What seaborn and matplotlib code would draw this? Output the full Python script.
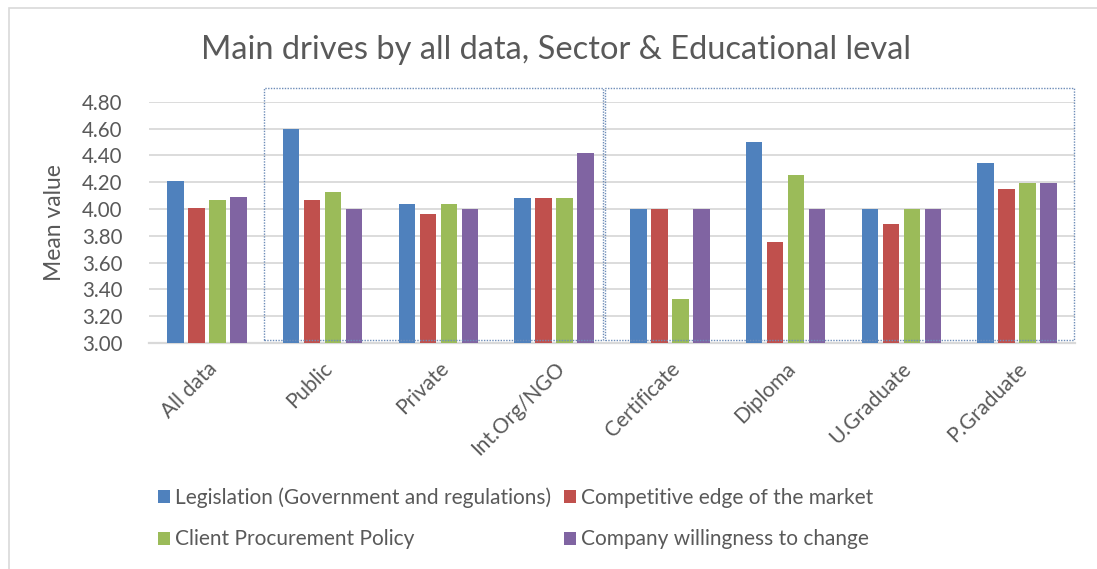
import matplotlib
matplotlib.use("Agg")
import matplotlib.pyplot as plt
from matplotlib.patches import Rectangle, Patch
import seaborn as sns
import pandas as pd

# Survey categories (overall, by sector, by educational level)
groups = ["All data", "Public", "Private", "Int.Org/NGO",
          "Certificate", "Diploma", "U.Graduate", "P.Graduate"]
drivers = ["Legislation (Government and regulations)",
           "Competitive edge of the market",
           "Client Procurement Policy",
           "Company willingness to change"]

# Mean scores per driver
legislation = [4.21, 4.60, 4.04, 4.08, 4.00, 4.50, 4.00, 4.34]
competitive = [4.01, 4.07, 3.96, 4.08, 4.00, 3.75, 3.89, 4.15]
procurement = [4.07, 4.13, 4.04, 4.08, 3.33, 4.25, 4.00, 4.19]
willingness = [4.09, 4.00, 4.00, 4.42, 4.00, 4.00, 4.00, 4.19]

y_ticks = [3.00, 3.20, 3.40, 3.60, 3.80, 4.00, 4.20, 4.40, 4.60, 4.80]

colors = ["#4F81BD", "#C0504D", "#9BBB59", "#8064A2"]
text_gray = "#595959"
grid_gray = "#D9D9D9"

rows = []
for drv, vals in zip(drivers, [legislation, competitive, procurement, willingness]):
    for g, v in zip(groups, vals):
        rows.append({"group": g, "driver": drv, "value": v})
df = pd.DataFrame(rows)

sns.set_style("white")
plt.rcParams["font.family"] = ["Lato", "DejaVu Sans"]

W, H = 1097, 569
fig = plt.figure(figsize=(W / 100, H / 100), dpi=100)
ax = fig.add_axes([149 / W, 1 - 343 / H, 926 / W, (343 - 101.7) / H])

sns.barplot(data=df, x="group", y="value", hue="driver", order=groups,
            hue_order=drivers, palette=colors, width=0.726, gap=0.22,
            linewidth=0, saturation=1, legend=False, ax=ax, zorder=3)

ax.set_ylim(3.0, 4.8)
ax.set_xlim(-0.5, len(groups) - 0.5)
ax.set_yticks(y_ticks)
ax.set_yticklabels([f"{t:.2f}" for t in y_ticks])
ax.yaxis.grid(True, color=grid_gray, linewidth=1.3, zorder=0)
ax.set_axisbelow(True)
for side in ["left", "right", "top"]:
    ax.spines[side].set_visible(False)
ax.spines["bottom"].set_color(grid_gray)
ax.spines["bottom"].set_linewidth(1.6)
ax.spines["bottom"].set_zorder(1)

ax.tick_params(axis="y", length=0, pad=19, labelsize=14.8, labelcolor=text_gray)
ax.tick_params(axis="x", length=0, pad=11, labelsize=15, labelcolor=text_gray)
plt.setp(ax.get_xticklabels(), rotation=45, ha="right", rotation_mode="anchor")

ax.set_xlabel("")
ax.set_ylabel("Mean value", fontsize=16.5, color=text_gray, labelpad=12)

# Dotted frames around the sector and educational-level groups
box_style = dict(fill=False, edgecolor="#6E8DB8", linewidth=1.0,
                 linestyle=(0, (1, 1)), clip_on=False, zorder=4)
ax.add_patch(Rectangle((0.49, 3.02), 3.42 - 0.49, 4.90 - 3.02, **box_style))
ax.add_patch(Rectangle((3.44, 3.02), 7.49 - 3.44, 4.90 - 3.02, **box_style))

fig.text(556 / W, 1 - 50 / H, "Main drives by all data, Sector & Educational leval",
         ha="center", va="center", fontsize=23.5, color=text_gray)

handles = [Patch(facecolor=c, edgecolor="none") for c in colors]
order = [0, 2, 1, 3]
fig.legend([handles[i] for i in order], [drivers[i] for i in order],
           ncol=2, loc="upper left", bbox_to_anchor=(158 / W, 1 - 487 / H),
           frameon=False, fontsize=15, labelcolor=text_gray,
           handlelength=0.58, handleheight=0.58, handletextpad=0.25,
           columnspacing=0.6, labelspacing=1.05, borderpad=0, borderaxespad=0)

# Light outer chart border
fig.patches.append(Rectangle((8.5 / W, -0.1), 1.2, 1 - 8.5 / H + 0.1,
                             transform=fig.transFigure, fill=False,
                             edgecolor=grid_gray, linewidth=1.2))

fig.savefig("out.png", dpi=100)
